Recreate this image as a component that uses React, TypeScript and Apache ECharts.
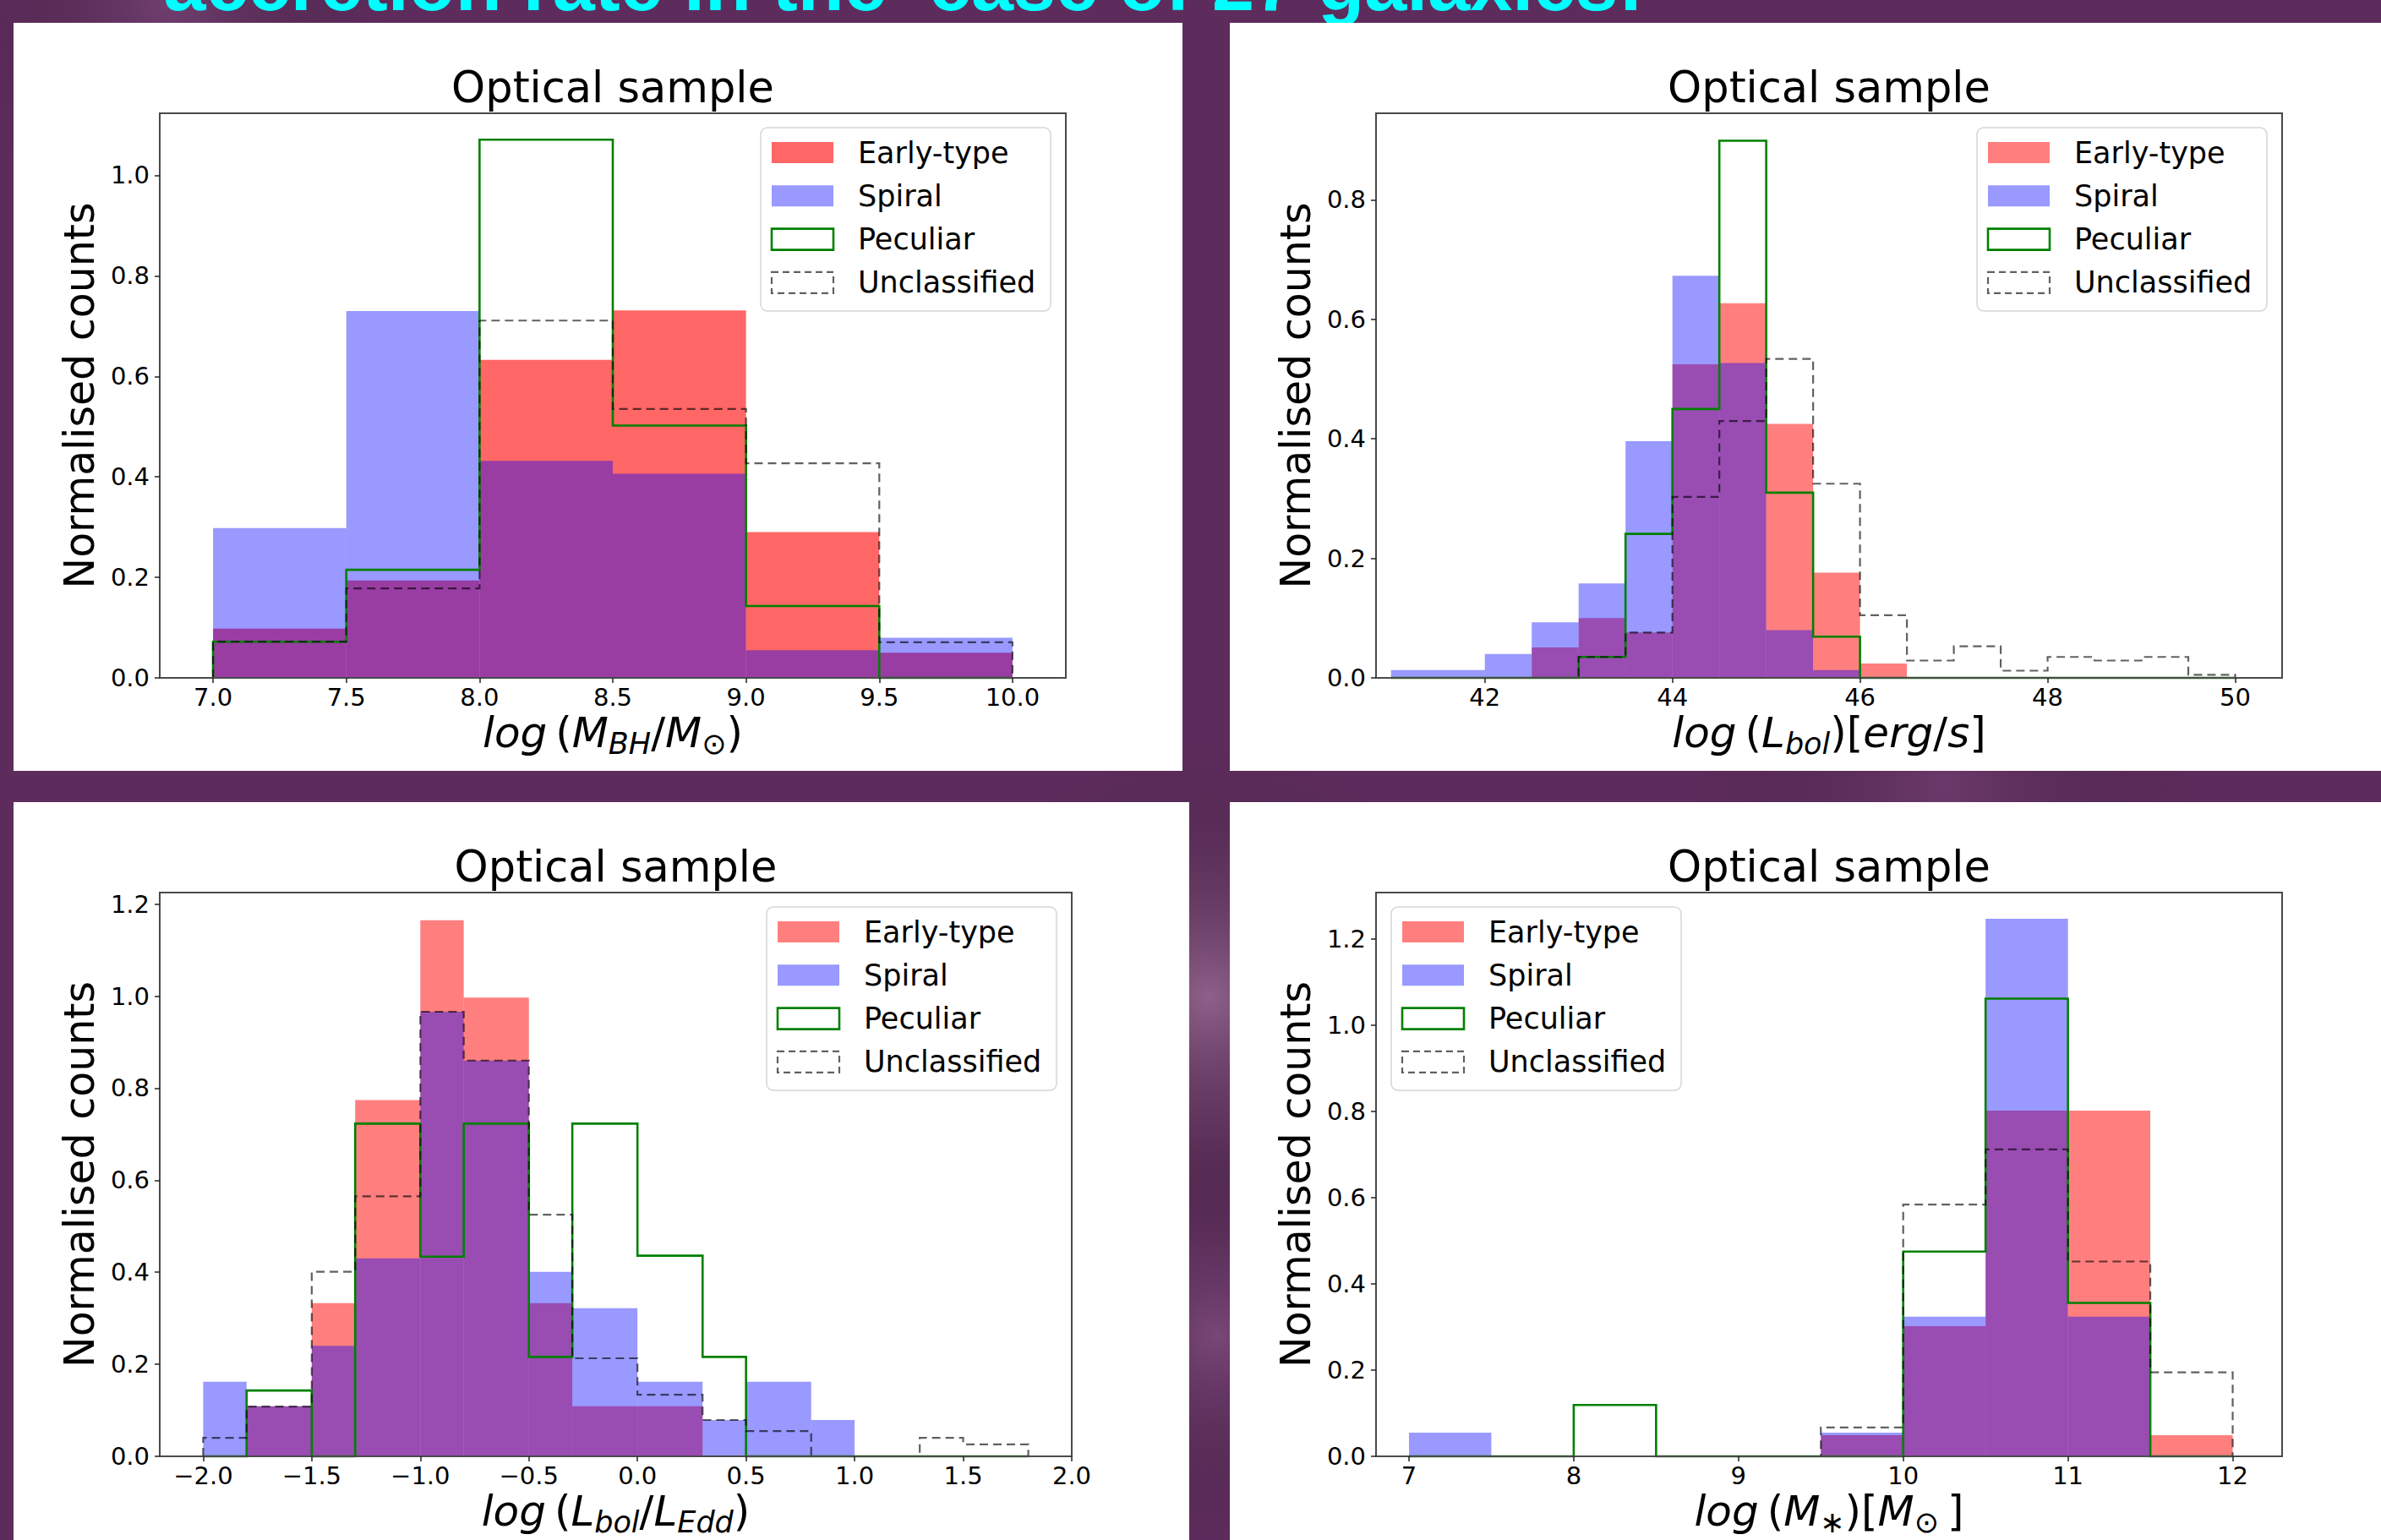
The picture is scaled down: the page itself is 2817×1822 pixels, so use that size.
import { useEffect, useRef } from 'react';
import * as echarts from 'echarts';

const W = 2817;
const H = 1822;
const FONT = 'DejaVu Sans';

const seriesNames = ['Early-type', 'Spiral', 'Peculiar', 'Unclassified'];
const panelTitle = 'Optical sample';
const yAxisTitle = 'Normalised counts';
const pageTitle = 'accretion rate in the  case of 27 galaxies:';

// ---- Panel 1: log(M_BH/M_sun)
const mbhEdges = [7.0, 7.5, 8.0, 8.5, 9.0, 9.5, 10.0];
const mbhEarly = [0.098, 0.194, 0.633, 0.731, 0.29, 0.05];
const mbhSpiral = [0.298, 0.73, 0.432, 0.406, 0.055, 0.08];
const mbhPeculiar = [0.072, 0.215, 1.071, 0.502, 0.143, 0];
const mbhUnclassified = [0.072, 0.178, 0.711, 0.535, 0.427, 0.071];
const mbhXTicks = [7.0, 7.5, 8.0, 8.5, 9.0, 9.5, 10.0];
const mbhYTicks = [0, 0.2, 0.4, 0.6, 0.8, 1.0];

// ---- Panel 2: log(L_bol) [erg/s]
const lbolEdges = [41.0, 41.5, 42.0, 42.5, 43.0, 43.5, 44.0, 44.5, 45.0, 45.5, 46.0, 46.5, 47.0, 47.5, 48.0, 48.5, 49.0, 49.5, 50.0];
const lbolEarly = [0, 0, 0, 0.051, 0.1, 0.076, 0.525, 0.627, 0.425, 0.176, 0.024, 0, 0, 0, 0, 0, 0, 0];
const lbolSpiral = [0.013, 0.013, 0.04, 0.093, 0.158, 0.396, 0.673, 0.527, 0.08, 0.013, 0, 0, 0, 0, 0, 0, 0, 0];
const lbolPeculiar = [0, 0, 0, 0, 0.035, 0.241, 0.45, 0.899, 0.31, 0.069, 0, 0, 0, 0, 0, 0, 0, 0];
const lbolUnclassified = [0, 0, 0, 0, 0.035, 0.076, 0.303, 0.43, 0.534, 0.325, 0.105, 0.029, 0.053, 0.012, 0.035, 0.029, 0.035, 0.005];
const lbolXTicks = [42, 44, 46, 48, 50];
const lbolYTicks = [0, 0.2, 0.4, 0.6, 0.8];

// ---- Panel 3: log(L_bol/L_Edd)
const eddEdges = [-2.0, -1.8, -1.5, -1.3, -1.0, -0.8, -0.5, -0.3, 0.0, 0.3, 0.5, 0.8, 1.0, 1.3, 1.5, 1.8];
const eddEarly = [0, 0.109, 0.333, 0.774, 1.165, 0.997, 0.333, 0.109, 0.109, 0, 0, 0, 0, 0, 0];
const eddSpiral = [0.162, 0.109, 0.24, 0.43, 0.966, 0.86, 0.401, 0.322, 0.162, 0.079, 0.162, 0.079, 0, 0, 0];
const eddPeculiar = [0, 0.143, 0, 0.723, 0.434, 0.723, 0.216, 0.723, 0.436, 0.216, 0, 0, 0, 0, 0];
const eddUnclassified = [0.04, 0.108, 0.401, 0.565, 0.966, 0.86, 0.525, 0.213, 0.134, 0.079, 0.055, 0, 0, 0.04, 0.026];
const eddXTicks = [-2.0, -1.5, -1.0, -0.5, 0.0, 0.5, 1.0, 1.5, 2.0];
const eddYTicks = [0, 0.2, 0.4, 0.6, 0.8, 1.0, 1.2];

// ---- Panel 4: log(M_*) [M_sun]
const mstarEdges = [7.0, 7.5, 8.0, 8.5, 9.0, 9.5, 10.0, 10.5, 11.0, 11.5, 12.0];
const mstarEarly = [0, 0, 0, 0, 0, 0.049, 0.302, 0.802, 0.802, 0.049];
const mstarSpiral = [0.055, 0, 0, 0, 0, 0.055, 0.324, 1.247, 0.324, 0];
const mstarPeculiar = [0, 0, 0.119, 0, 0, 0, 0.475, 1.062, 0.356, 0];
const mstarUnclassified = [0, 0, 0, 0, 0, 0.067, 0.584, 0.712, 0.452, 0.195];
const mstarXTicks = [7, 8, 9, 10, 11, 12];
const mstarYTicks = [0, 0.2, 0.4, 0.6, 0.8, 1.0, 1.2];

const fmt1 = (v: number) => {
  const s = Math.abs(v).toFixed(1);
  return v < -1e-9 ? '\u2212' + s : s;
};
const fmt0 = (v: number) => String(Math.round(v));

const GREEN = '#008000';
const DASH = 'rgba(0,0,0,0.62)';
const SPIRAL = 'rgba(0,0,255,0.4)';

const PANELS = [
  {
    box: [16, 27, 1383, 885],
    grid: { left: 189, top: 134, width: 1072, height: 668 },
    xMin: 6.8, xMax: 10.2, yMax: 1.1235,
    edges: mbhEdges, early: mbhEarly, spiral: mbhSpiral, pec: mbhPeculiar, uncl: mbhUnclassified,
    xTicks: mbhXTicks, yTicks: mbhYTicks, xFmt: fmt1, earlyColor: 'rgba(255,0,0,0.6)', legendSide: 'right',
    xLabel: '{i|log\u2009}{n|(}{i|M}{si|BH}{n|/}{i|M}{sn|\u2299}{n|)}',
  },
  {
    box: [1455, 27, 1362, 885],
    grid: { left: 1628, top: 134, width: 1072, height: 668 },
    xMin: 40.84, xMax: 50.5, yMax: 0.945,
    edges: lbolEdges, early: lbolEarly, spiral: lbolSpiral, pec: lbolPeculiar, uncl: lbolUnclassified,
    xTicks: lbolXTicks, yTicks: lbolYTicks, xFmt: fmt0, earlyColor: 'rgba(255,0,0,0.5)', legendSide: 'right',
    xLabel: '{i|log\u2009}{n|(}{i|L}{si|bol}{n|)[}{i|erg}{n|/}{i|s}{n|]}',
  },
  {
    box: [16, 949, 1391, 873],
    grid: { left: 189, top: 1056, width: 1079, height: 667 },
    xMin: -2.2, xMax: 2.0, yMax: 1.225,
    edges: eddEdges, early: eddEarly, spiral: eddSpiral, pec: eddPeculiar, uncl: eddUnclassified,
    xTicks: eddXTicks, yTicks: eddYTicks, xFmt: fmt1, earlyColor: 'rgba(255,0,0,0.5)', legendSide: 'right',
    xLabel: '{i|log\u2009}{n|(}{i|L}{si|bol}{n|/}{i|L}{si|Edd}{n|)}',
  },
  {
    box: [1455, 949, 1362, 873],
    grid: { left: 1628, top: 1056, width: 1072, height: 667 },
    xMin: 6.8, xMax: 12.3, yMax: 1.308,
    edges: mstarEdges, early: mstarEarly, spiral: mstarSpiral, pec: mstarPeculiar, uncl: mstarUnclassified,
    xTicks: mstarXTicks, yTicks: mstarYTicks, xFmt: fmt0, earlyColor: 'rgba(255,0,0,0.5)', legendSide: 'left',
    xLabel: '{i|log\u2009}{n|(}{i|M}{sn|\u2217}{n|)[}{i|M}{sn|\u2299}{n|\u2009]}',
  },
];

const binData = (edges: number[], vals: number[]) => vals.map((v, k) => [edges[k], edges[k + 1], v]);
const stepData = (edges: number[], vals: number[]) => {
  const pts: number[][] = [[edges[0], 0]];
  vals.forEach((v, k) => {
    pts.push([edges[k], v]);
    pts.push([edges[k + 1], v]);
  });
  pts.push([edges[edges.length - 1], 0]);
  return pts;
};

const richLabel = {
  i: { fontFamily: FONT, fontStyle: 'italic', fontSize: 50, lineHeight: 60, verticalAlign: 'middle', fill: '#000' },
  n: { fontFamily: FONT, fontSize: 50, lineHeight: 60, verticalAlign: 'middle', fill: '#000' },
  si: { fontFamily: FONT, fontStyle: 'italic', fontSize: 35, lineHeight: 28, verticalAlign: 'bottom', fill: '#000' },
  sn: { fontFamily: FONT, fontSize: 35, lineHeight: 28, verticalAlign: 'bottom', fill: '#000' },
};

function buildOption() {
  const grid: any[] = [];
  const xAxis: any[] = [];
  const yAxis: any[] = [];
  const series: any[] = [];
  const graphic: any[] = [];

  graphic.push({ type: 'rect', z: -30, shape: { x: 0, y: 0, width: W, height: H }, style: { fill: '#5e2c5c' } });
  const glows = [
    [1430, 1180, 300, 'rgba(200,160,195,0.45)'],
    [1440, 1580, 240, 'rgba(170,120,170,0.35)'],
    [200, 0, 260, 'rgba(150,100,150,0.35)'],
    [2300, 930, 300, 'rgba(140,90,140,0.3)'],
  ];
  glows.forEach(([cx, cy, r, c]) => {
    graphic.push({
      type: 'circle', z: -29, shape: { cx, cy, r },
      style: { fill: new echarts.graphic.RadialGradient(0.5, 0.5, 0.5, [
        { offset: 0, color: c as string }, { offset: 1, color: 'rgba(0,0,0,0)' }]) },
    });
  });
  graphic.push({
    type: 'text', z: -25, x: 1069, y: -19,
    style: { text: pageTitle, fontFamily: 'Liberation Sans', fontWeight: 'bold', fontSize: 90, fill: '#00ffff', align: 'center', verticalAlign: 'middle' },
  });

  PANELS.forEach((p, i) => {
    const g = p.grid;
    graphic.push({ type: 'rect', z: -20, shape: { x: p.box[0], y: p.box[1], width: p.box[2], height: p.box[3] }, style: { fill: '#ffffff' } });
    grid.push({ left: g.left, top: g.top, width: g.width, height: g.height, show: true, borderColor: '#4a4a4a', borderWidth: 2, backgroundColor: 'transparent' });
    xAxis.push({
      gridIndex: i, type: 'value', min: p.xMin, max: p.xMax, z: 10,
      axisLine: { show: true, onZero: false, lineStyle: { color: '#4a4a4a', width: 2 } },
      axisTick: { show: true, length: 6, customValues: p.xTicks, lineStyle: { color: '#222', width: 1.5 } },
      axisLabel: { customValues: p.xTicks, formatter: (v: number) => p.xFmt(v), fontSize: 29, fontFamily: FONT, color: '#000', margin: 8 },
      splitLine: { show: false },
    });
    yAxis.push({
      gridIndex: i, type: 'value', min: 0, max: p.yMax, z: 10,
      axisLine: { show: true, onZero: false, lineStyle: { color: '#4a4a4a', width: 2 } },
      axisTick: { show: true, length: 6, customValues: p.yTicks, lineStyle: { color: '#222', width: 1.5 } },
      axisLabel: { customValues: p.yTicks, formatter: (v: number) => fmt1(v), fontSize: 29, fontFamily: FONT, color: '#000', margin: 12 },
      splitLine: { show: false },
    });
    const barSeries = (vals: number[], color: string, name: string) => ({
      type: 'custom', name, xAxisIndex: i, yAxisIndex: i, silent: true,
      data: binData(p.edges, vals),
      encode: { x: [0, 1], y: 2 },
      renderItem: (_params: any, api: any) => {
        const h = api.value(2);
        if (!(h > 0)) return null;
        const a = api.coord([api.value(0), h]);
        const b = api.coord([api.value(1), 0]);
        return { type: 'rect', shape: { x: a[0], y: a[1], width: b[0] - a[0], height: b[1] - a[1] }, style: { fill: color } };
      },
    });
    series.push(barSeries(p.early, p.earlyColor, seriesNames[0]));
    series.push(barSeries(p.spiral, SPIRAL, seriesNames[1]));
    series.push({
      type: 'line', name: seriesNames[2], xAxisIndex: i, yAxisIndex: i, silent: true, clip: false,
      data: stepData(p.edges, p.pec), symbol: 'none', showSymbol: false,
      lineStyle: { color: GREEN, width: 2.6, join: 'miter' },
    });
    series.push({
      type: 'line', name: seriesNames[3], xAxisIndex: i, yAxisIndex: i, silent: true, clip: false,
      data: stepData(p.edges, p.uncl), symbol: 'none', showSymbol: false,
      lineStyle: { color: DASH, width: 2.2, type: [10, 6], join: 'miter' },
    });

    // titles & axis names
    graphic.push({
      type: 'text', z: 50, x: g.left + g.width / 2, y: g.top - 31,
      style: { text: panelTitle, fontFamily: FONT, fontSize: 51, fill: '#000', align: 'center', verticalAlign: 'middle' },
    });
    graphic.push({
      type: 'text', z: 50, x: g.left - 95, y: g.top + g.height / 2, rotation: Math.PI / 2,
      style: { text: yAxisTitle, fontFamily: FONT, fontSize: 49, fill: '#000', align: 'center', verticalAlign: 'middle' },
    });
    graphic.push({
      type: 'text', z: 50, x: g.left + g.width / 2, y: g.top + g.height + 65,
      style: { text: p.xLabel, rich: richLabel, align: 'center', verticalAlign: 'middle', fontFamily: FONT, fontSize: 50 },
    });

    // legend
    const LW = 343;
    const LH = 217;
    const lx = p.legendSide === 'right' ? g.left + g.width - 18 - LW : g.left + 18;
    const ly = g.top + 17;
    const children: any[] = [
      { type: 'rect', shape: { x: 0, y: 0, width: LW, height: LH, r: 8 }, style: { fill: 'rgba(255,255,255,0.85)', stroke: '#d6d6d6', lineWidth: 1.5 } },
    ];
    const handleStyles = [
      { fill: p.earlyColor },
      { fill: SPIRAL },
      { fill: 'rgba(255,255,255,0)', stroke: GREEN, lineWidth: 2.6 },
      { fill: 'rgba(255,255,255,0)', stroke: DASH, lineWidth: 2.2, lineDash: [8, 5] },
    ];
    seriesNames.forEach((nm, k) => {
      const cy = 29.5 + k * 51.3;
      children.push({ type: 'rect', shape: { x: 13, y: cy - 12.5, width: 73, height: 25 }, style: handleStyles[k] });
      children.push({ type: 'text', x: 115, y: cy, style: { text: nm, fontFamily: FONT, fontSize: 35, fill: '#000', align: 'left', verticalAlign: 'middle' } });
    });
    graphic.push({ type: 'group', x: lx, y: ly, z: 100, children });
  });

  return { animation: false, backgroundColor: '#5e2c5c', grid, xAxis, yAxis, series, graphic };
}

export default function App() {
  const ref = useRef<HTMLDivElement>(null);
  useEffect(() => {
    document.body.style.margin = '0';
    const chart = echarts.init(ref.current as HTMLDivElement, null, { renderer: 'svg', width: W, height: H });
    chart.setOption(buildOption() as any);
    return () => chart.dispose();
  }, []);
  return <div ref={ref} style={{ width: W, height: H, position: 'absolute', left: 0, top: 0 }} />;
}
